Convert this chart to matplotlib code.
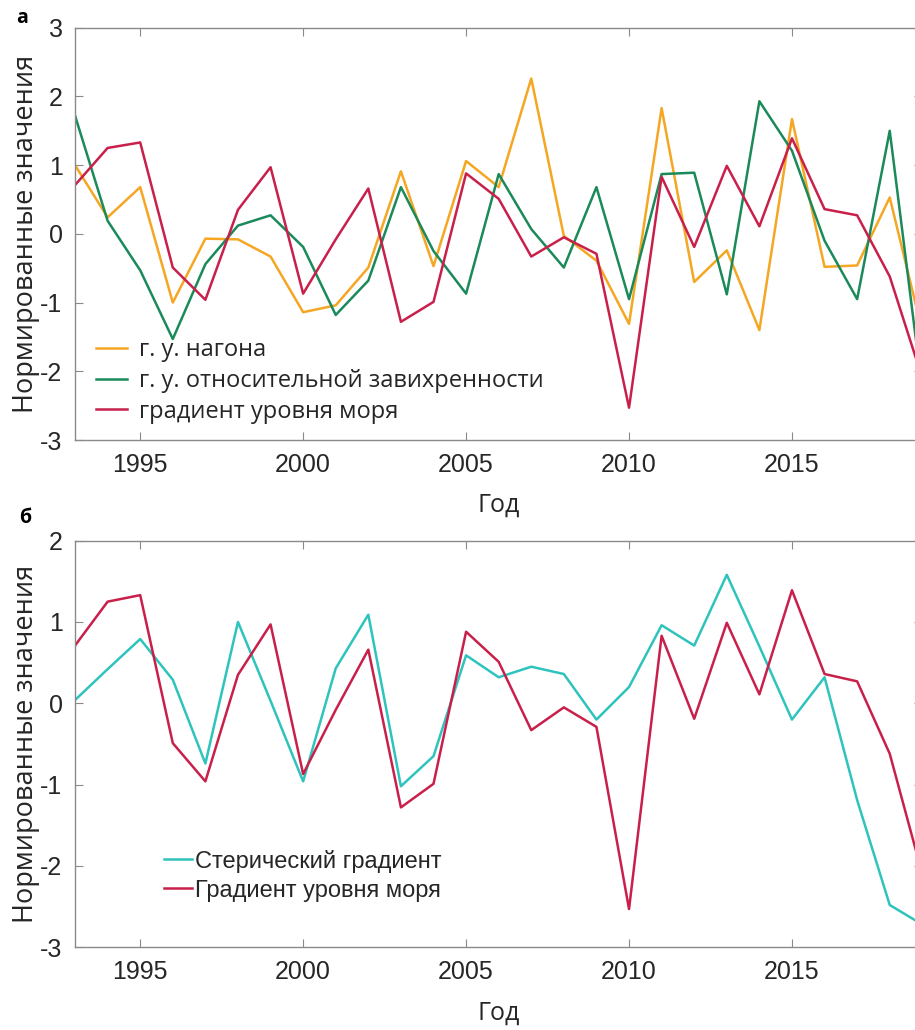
import matplotlib
matplotlib.use('Agg')
import matplotlib.pyplot as plt

plt.rcParams['axes.unicode_minus'] = False

years = list(range(1993, 2020))

# г. у. нагона
surge = [1.0, 0.24, 0.68, -1.0, -0.07, -0.08, -0.33, -1.14, -1.04, -0.49, 0.91, -0.47,
         1.06, 0.68, 2.26, -0.03, -0.39, -1.31, 1.83, -0.70, -0.24, -1.40, 1.67, -0.48,
         -0.46, 0.53, -1.42]
# г. у. относительной завихренности
vort = [1.72, 0.19, -0.53, -1.53, -0.44, 0.12, 0.27, -0.19, -1.18, -0.68, 0.68, -0.25,
        -0.87, 0.87, 0.07, -0.49, 0.68, -0.95, 0.87, 0.89, -0.88, 1.93, 1.21, -0.10,
        -0.95, 1.50, -2.28]
# градиент уровня моря
sea = [0.71, 1.25, 1.33, -0.49, -0.96, 0.35, 0.97, -0.87, -0.08, 0.66, -1.28, -0.99,
       0.88, 0.51, -0.33, -0.05, -0.29, -2.53, 0.83, -0.19, 0.99, 0.11, 1.39, 0.36,
       0.27, -0.62, -2.1]
# стерический градиент
steric = [0.04, 0.42, 0.79, 0.29, -0.74, 1.0, 0.03, -0.96, 0.43, 1.09, -1.02, -0.65,
          0.59, 0.32, 0.45, 0.36, -0.20, 0.20, 0.96, 0.71, 1.58, 0.70, -0.20, 0.32,
          -1.19, -2.48, -2.72]

c_orange = '#f5a623'
c_green = '#1b8a5a'
c_red = '#c8204a'
c_cyan = '#2fc3be'
spine_col = '#8a8a8a'
text_col = '#262626'

tick_font = ['Liberation Sans', 'DejaVu Sans']
label_font = ['Open Sans', 'DejaVu Sans']

fig = plt.figure(figsize=(9.15, 10.3), dpi=100)
ax1 = fig.add_axes([0.082, 0.5728, 0.926, 0.4003])
ax2 = fig.add_axes([0.082, 0.0803, 0.926, 0.3948])


def style(ax, ylim, yticks):
    ax.set_xlim(1993, 2019)
    ax.set_ylim(*ylim)
    ax.set_xticks([1995, 2000, 2005, 2010, 2015])
    ax.set_yticks(yticks)
    ax.tick_params(direction='in', top=True, right=True, length=6, width=0.8,
                   color=spine_col, labelsize=18, labelcolor=text_col, pad=9)
    for lab in ax.get_xticklabels() + ax.get_yticklabels():
        lab.set_family(tick_font)
    for s in ax.spines.values():
        s.set_color(spine_col)
        s.set_linewidth(1.0)
    ax.set_xlabel('Год', fontsize=18, family=label_font, color=text_col, labelpad=12)
    ax.set_ylabel('Нормированные значения', fontsize=19.5, family=label_font,
                  color=text_col, labelpad=0)


ax1.plot(years, surge, color=c_orange, lw=1.8, label='г. у. нагона')
ax1.plot(years, vort, color=c_green, lw=1.8, label='г. у. относительной завихренности')
ax1.plot(years, sea, color=c_red, lw=1.8, label='градиент уровня моря')
style(ax1, (-3, 3), [-3, -2, -1, 0, 1, 2, 3])
ax1.legend(loc='lower left', bbox_to_anchor=(0.0, -0.012), frameon=False,
           prop={'family': label_font, 'size': 17}, handlelength=1.3,
           handletextpad=0.5, labelspacing=0.28, labelcolor=text_col)

ax2.plot(years, steric, color=c_cyan, lw=1.8, label='Стерический градиент')
ax2.plot(years, sea, color=c_red, lw=1.8, label='Градиент уровня моря')
style(ax2, (-3, 2), [-3, -2, -1, 0, 1, 2])
ax2.legend(loc='lower left', bbox_to_anchor=(0.08, 0.06), frameon=False,
           prop={'family': tick_font, 'size': 17}, handlelength=1.2,
           handletextpad=0.12, labelspacing=0.3, labelcolor=text_col)

fig.text(0.024, 0.983, 'а', fontsize=14, fontweight='bold', family=label_font,
         ha='center', va='center')
fig.text(0.027, 0.497, 'б', fontsize=14, fontweight='bold', family=label_font,
         ha='center', va='center')

fig.savefig('out.png', dpi=100)
